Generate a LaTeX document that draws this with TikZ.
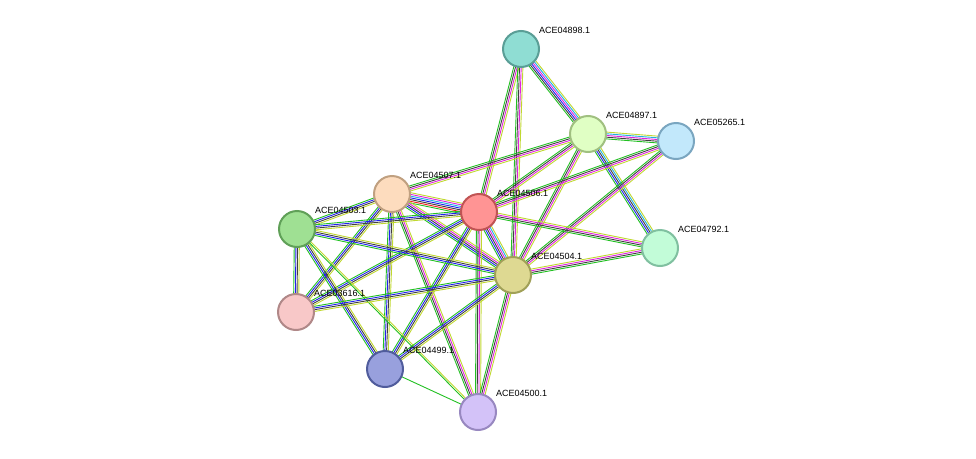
\documentclass[tikz,border=0pt]{standalone}
\usepackage{fontspec}
\setmainfont{Liberation Sans}
\usetikzlibrary{calc}
\definecolor{eg}{HTML}{22C022}\definecolor{eb}{HTML}{2020F0}\definecolor{ek}{HTML}{404040}
\definecolor{em}{HTML}{E020E0}\definecolor{ec}{HTML}{20B0E0}\definecolor{ey}{HTML}{C0D830}\definecolor{er}{HTML}{F02020}
\newcommand{\edg}[4]{\foreach \cc [count=\i] in {#4}{\pgfmathsetmacro{\oo}{(\i-(#3+1)/2)*1.7}
 \draw[\cc,line width=0.9pt] ($(#1)!\oo pt!90:(#2)$) -- ($(#2)!\oo pt!-90:(#1)$);}}
\tikzset{prot/.style={circle,minimum size=36pt,inner sep=0,line width=2pt},
 lab/.style={anchor=south west,inner sep=0,font=\fontsize{9}{10}\selectfont}}
\begin{document}
\begin{tikzpicture}[x=1pt,y=-1pt]
\useasboundingbox (0,0) rectangle (976,458);
\foreach \n/\x/\y in {a98/521/49,a97/588/134,a65/676/141,a07/392/194,a06/479/212,a03/297/229,a92/660/248,a04/513/275,a16/296/312,a99/385/369,a00/478/412}{\coordinate (\n) at (\x,\y);}
\edg{a98}{a97}{6}{eg,ek,eb,em,ec,ey}
\edg{a98}{a06}{4}{eg,ek,em,ey}
\edg{a98}{a04}{4}{eg,ek,em,ey}
\edg{a97}{a65}{5}{eg,ek,em,ec,ey}
\edg{a97}{a07}{4}{eg,ek,em,ey}
\edg{a97}{a06}{4}{eg,ek,em,ey}
\edg{a97}{a04}{4}{eg,ek,em,ey}
\edg{a97}{a92}{5}{eg,eb,ek,ec,ey}
\edg{a65}{a06}{4}{eg,ek,em,ey}
\edg{a65}{a04}{4}{eg,ek,em,ey}
\edg{a07}{a06}{7}{eg,er,ek,eb,ec,em,ey}
\edg{a07}{a03}{4}{eg,eb,ek,ey}
\edg{a07}{a04}{5}{eg,eb,ek,em,ey}
\edg{a07}{a16}{4}{eg,eb,ek,ey}
\edg{a07}{a99}{4}{eg,eb,ek,ey}
\edg{a07}{a00}{4}{eg,ek,em,ey}
\edg{a06}{a03}{4}{eg,eb,ek,ey}
\edg{a06}{a04}{6}{eg,eb,ek,em,ec,ey}
\edg{a06}{a92}{4}{eg,ek,em,ey}
\edg{a06}{a16}{4}{eg,eb,ek,ey}
\edg{a06}{a99}{4}{eg,eb,ek,ey}
\edg{a06}{a00}{4}{eg,ek,em,ey}
\edg{a03}{a04}{4}{eg,eb,ek,ey}
\edg{a03}{a16}{4}{eg,eb,ek,ey}
\edg{a03}{a99}{4}{eg,eb,ek,ey}
\edg{a03}{a00}{2}{eg,ey}
\edg{a04}{a92}{4}{eg,ek,em,ey}
\edg{a04}{a16}{4}{eg,eb,ek,ey}
\edg{a04}{a99}{4}{eg,eb,ek,ey}
\edg{a04}{a00}{4}{eg,ek,em,ey}
\edg{a99}{a00}{1}{eg}
\foreach \n/\f/\d/\t in {a98/8FDDD3/5A9E96/ACE04898.1,a97/E0FFC4/A0C080/ACE04897.1,a65/C2E8FB/7AA6C0/ACE05265.1,a07/FDDCBE/C0A080/ACE04507.1,a06/FF9494/C05454/ACE04506.1,a03/9FE093/60A058/ACE04503.1,a92/C2FCD8/80C0A0/ACE04792.1,a04/DED992/A0A058/ACE04504.1,a16/F8C8C8/B08888/ACE03616.1,a99/98A0DD/505C9C/ACE04499.1,a00/D3C2F8/9888C0/ACE04500.1}{
 \definecolor{ff}{HTML}{\f}\definecolor{dd}{HTML}{\d}
 \node[prot,fill=ff,draw=dd] (n\n) at (\n) {};
 \node[lab] (l\n) at ($(\n)+(18,-15)$) {\t};}
\end{tikzpicture}
\end{document}
